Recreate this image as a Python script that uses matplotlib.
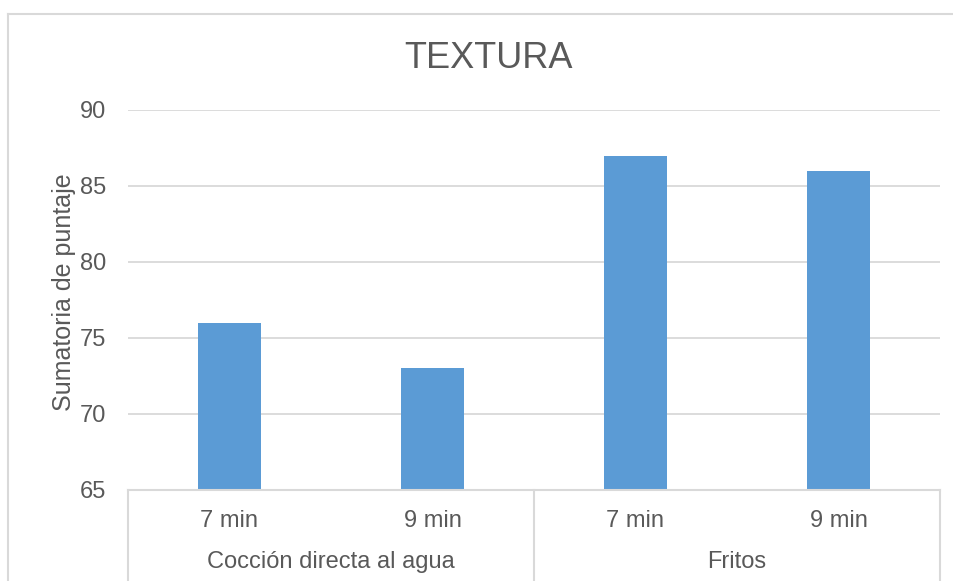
import matplotlib.pyplot as plt
from matplotlib.lines import Line2D

plt.rcParams['font.family'] = ['Liberation Sans', 'DejaVu Sans']

grupos = ['Cocción directa al agua', 'Fritos']
tiempos = ['7 min', '9 min', '7 min', '9 min']
puntaje = [76, 73, 87, 86]

W, H = 954, 581
txt = '#595959'
gris = '#D9D9D9'
azul = '#5B9BD5'

fig = plt.figure(figsize=(W / 100, H / 100), dpi=100)
ax = fig.add_axes([128 / W, 91 / H, 812 / W, 380 / H])

x = list(range(len(puntaje)))
ax.bar(x, puntaje, width=0.315, color=azul, zorder=3, bottom=0)
ax.set_xlim(-0.5, len(puntaje) - 0.5)
ax.set_ylim(65, 90)
ax.set_yticks(range(65, 91, 5))
ax.tick_params(axis='y', length=0, pad=16, labelsize=17, labelcolor=txt)
ax.set_xticks([])
ax.yaxis.grid(True, color=gris, linewidth=1.3, zorder=0)
for s in ax.spines.values():
    s.set_visible(False)

ax.set_ylabel('Sumatoria de puntaje', fontsize=18, color=txt)
ax.yaxis.set_label_coords(-52 / 812, 198 / 380)
fig.text(489 / W, 1 - 68 / H, 'TEXTURA', fontsize=26, color=txt,
         ha='center', va='baseline')

# eje de categorías en dos niveles
tr = ax.get_xaxis_transform()
ax.add_line(Line2D([-0.5, 3.5], [0, 0], transform=tr, color=gris,
                   linewidth=1.5, clip_on=False, zorder=4))
for xs in (-0.5, 1.5, 3.5):
    ax.add_line(Line2D([xs, xs], [0, -0.3], transform=tr, color=gris,
                       linewidth=1.5, clip_on=False))
for i, t in enumerate(tiempos):
    ax.text(i, -31 / 380, t, transform=tr, ha='center', va='center',
            fontsize=17, color=txt)
for j, g in enumerate(grupos):
    ax.text(2 * j + 0.5, -72 / 380, g, transform=tr, ha='center',
            va='center', fontsize=17, color=txt)

# marco del área del gráfico
fig.add_artist(Line2D([8 / W, 8 / W], [0, 1 - 14 / H], color=gris,
                      linewidth=1.5, transform=fig.transFigure))
fig.add_artist(Line2D([8 / W, 1], [1 - 14 / H, 1 - 14 / H], color=gris,
                      linewidth=1.5, transform=fig.transFigure))

fig.savefig('out.png', dpi=100)
